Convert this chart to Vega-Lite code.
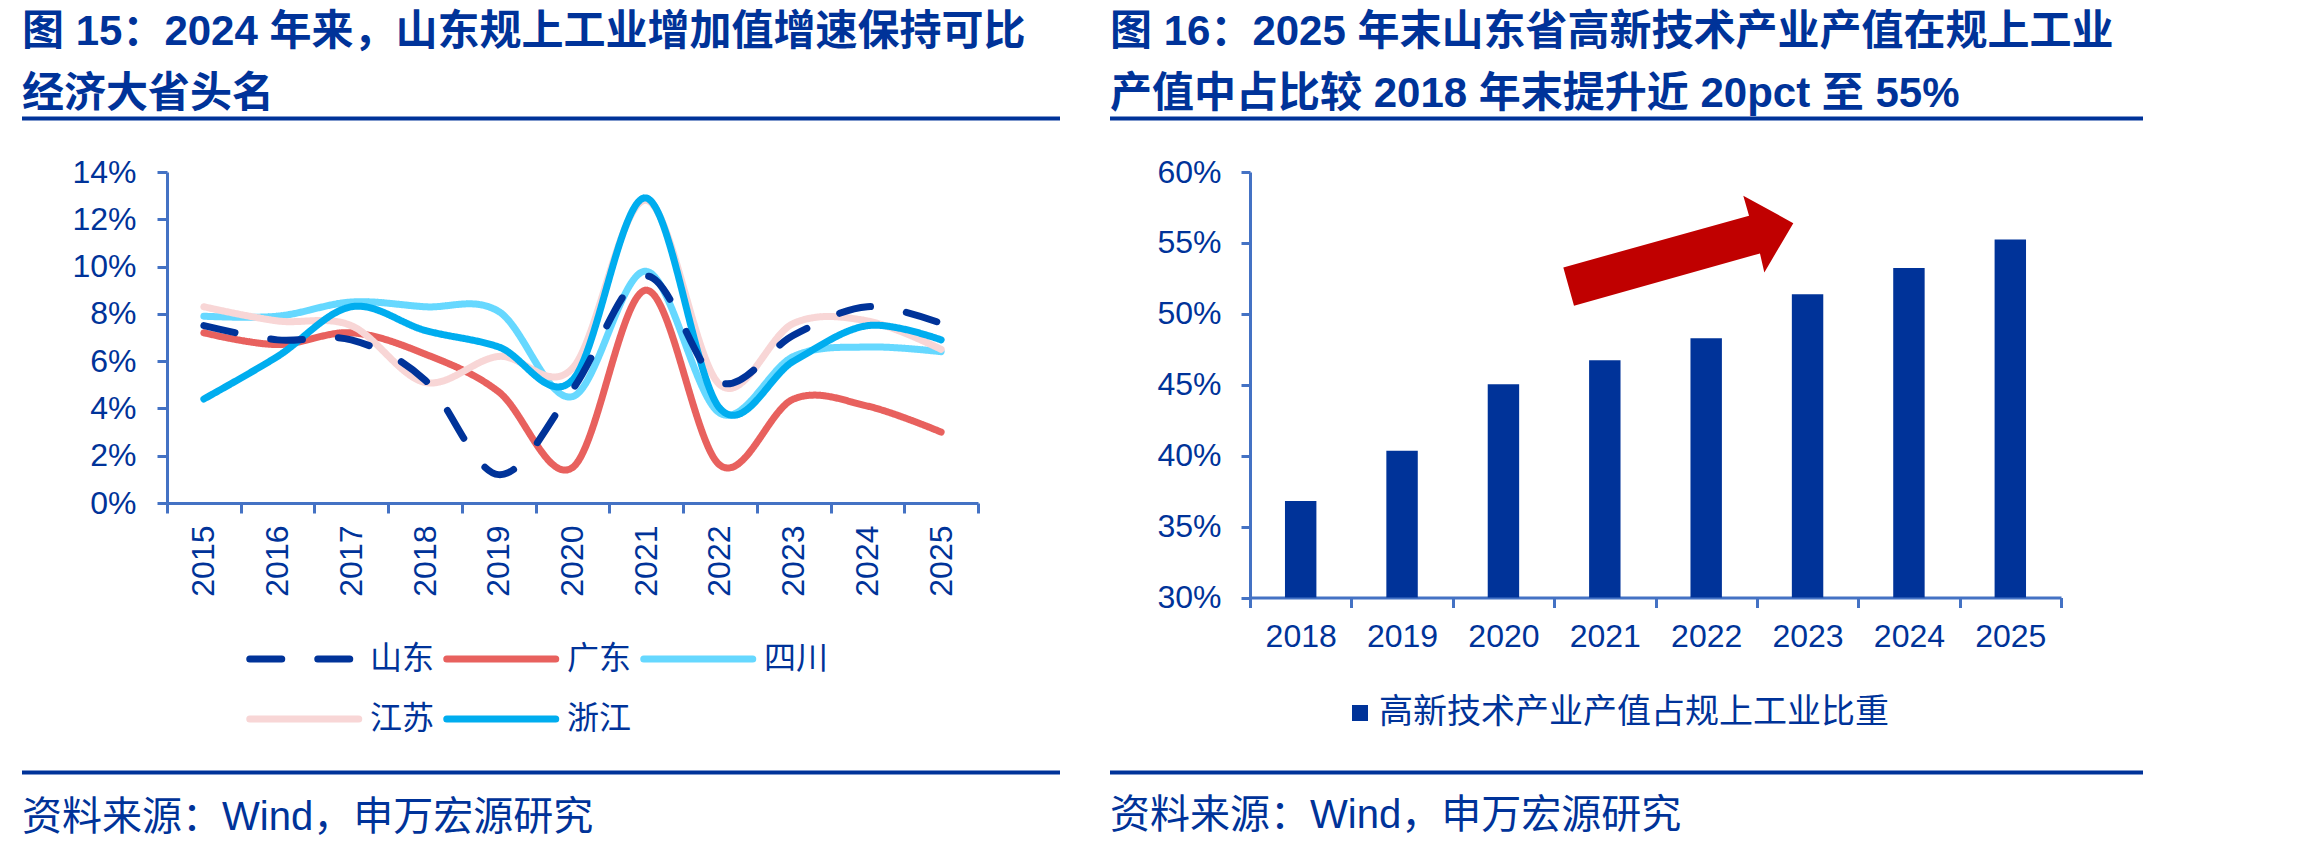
{
  "$schema": "https://vega.github.io/schema/vega-lite/v6.json",
  "background": "white",
  "padding": {"left": 20, "top": 11, "right": 10, "bottom": 0},
  "config": {
    "view": {"stroke": null},
    "font": "Liberation Sans",
    "axis": {
      "domainColor": "#4472C4",
      "tickColor": "#4472C4",
      "domainWidth": 3,
      "tickWidth": 3,
      "labelColor": "#003399",
      "labelFont": "Liberation Sans",
      "labelFontSize": 32,
      "grid": false,
      "title": null
    },
    "title": {
      "color": "#003399",
      "font": "Liberation Sans, Noto Sans CJK SC",
      "anchor": "start",
      "frame": "group"
    }
  },
  "spacing": 46,
  "resolve": {"legend": {"color": "independent", "strokeDash": "independent", "fill": "independent"}},
  "hconcat": [
    {
      "spacing": 35,
      "resolve": {"legend": {"color": "independent", "strokeDash": "independent"}},
      "vconcat": [
        {
          "width": 893,
          "height": 1,
          "title": {
            "text": ["图 15：2024 年来，山东规上工业增加值增速保持可比", "经济大省头名"],
            "fontSize": 42,
            "fontWeight": "bold",
            "lineHeight": 61.5,
            "offset": 1,
            "dx": -145
          },
          "data": {"values": [{}]},
          "mark": {"type": "rule", "color": "#003399", "strokeWidth": 4},
          "encoding": {
            "x": {"datum": 0, "type": "quantitative", "scale": {"domain": [0, 1], "range": [-145, 893]}, "axis": null},
            "x2": {"datum": 1}
          }
        },
        {
          "width": 811,
          "height": 331,
          "data": {
            "values": [
              {"year": "2015", "province": "广东", "growth": 0.072},
              {"year": "2016", "province": "广东", "growth": 0.067},
              {"year": "2017", "province": "广东", "growth": 0.072},
              {"year": "2018", "province": "广东", "growth": 0.063},
              {"year": "2019", "province": "广东", "growth": 0.047},
              {"year": "2020", "province": "广东", "growth": 0.015},
              {"year": "2021", "province": "广东", "growth": 0.090},
              {"year": "2022", "province": "广东", "growth": 0.016},
              {"year": "2023", "province": "广东", "growth": 0.044},
              {"year": "2024", "province": "广东", "growth": 0.041},
              {"year": "2025", "province": "广东", "growth": 0.030},
              {"year": "2015", "province": "四川", "growth": 0.079},
              {"year": "2016", "province": "四川", "growth": 0.079},
              {"year": "2017", "province": "四川", "growth": 0.085},
              {"year": "2018", "province": "四川", "growth": 0.083},
              {"year": "2019", "province": "四川", "growth": 0.081},
              {"year": "2020", "province": "四川", "growth": 0.045},
              {"year": "2021", "province": "四川", "growth": 0.098},
              {"year": "2022", "province": "四川", "growth": 0.038},
              {"year": "2023", "province": "四川", "growth": 0.062},
              {"year": "2024", "province": "四川", "growth": 0.066},
              {"year": "2025", "province": "四川", "growth": 0.064},
              {"year": "2015", "province": "江苏", "growth": 0.083},
              {"year": "2016", "province": "江苏", "growth": 0.077},
              {"year": "2017", "province": "江苏", "growth": 0.075},
              {"year": "2018", "province": "江苏", "growth": 0.051},
              {"year": "2019", "province": "江苏", "growth": 0.062},
              {"year": "2020", "province": "江苏", "growth": 0.057},
              {"year": "2021", "province": "江苏", "growth": 0.128},
              {"year": "2022", "province": "江苏", "growth": 0.050},
              {"year": "2023", "province": "江苏", "growth": 0.076},
              {"year": "2024", "province": "江苏", "growth": 0.077},
              {"year": "2025", "province": "江苏", "growth": 0.065},
              {"year": "2015", "province": "浙江", "growth": 0.044},
              {"year": "2016", "province": "浙江", "growth": 0.062},
              {"year": "2017", "province": "浙江", "growth": 0.083},
              {"year": "2018", "province": "浙江", "growth": 0.073},
              {"year": "2019", "province": "浙江", "growth": 0.066},
              {"year": "2020", "province": "浙江", "growth": 0.052},
              {"year": "2021", "province": "浙江", "growth": 0.129},
              {"year": "2022", "province": "浙江", "growth": 0.040},
              {"year": "2023", "province": "浙江", "growth": 0.060},
              {"year": "2024", "province": "浙江", "growth": 0.075},
              {"year": "2025", "province": "浙江", "growth": 0.069},
              {"year": "2015", "province": "山东", "growth": 0.075},
              {"year": "2016", "province": "山东", "growth": 0.069},
              {"year": "2017", "province": "山东", "growth": 0.069},
              {"year": "2018", "province": "山东", "growth": 0.052},
              {"year": "2019", "province": "山东", "growth": 0.012},
              {"year": "2020", "province": "山东", "growth": 0.048},
              {"year": "2021", "province": "山东", "growth": 0.096},
              {"year": "2022", "province": "山东", "growth": 0.051},
              {"year": "2023", "province": "山东", "growth": 0.071},
              {"year": "2024", "province": "山东", "growth": 0.083},
              {"year": "2025", "province": "山东", "growth": 0.076}
            ]
          },
          "mark": {"type": "line", "interpolate": "cardinal", "strokeWidth": 7, "strokeCap": "round", "strokeJoin": "round"},
          "encoding": {
            "x": {
              "field": "year",
              "type": "ordinal",
              "scale": {"paddingInner": 0, "paddingOuter": 0},
              "axis": {"labelAngle": -90, "tickBand": "extent", "tickSize": 10, "labelPadding": 12}
            },
            "y": {
              "field": "growth",
              "type": "quantitative",
              "scale": {"domain": [0, 0.14], "nice": false},
              "axis": {
                "values": [0, 0.02, 0.04, 0.06, 0.08, 0.1, 0.12, 0.14],
                "format": ".0%",
                "tickSize": 10,
                "labelPadding": 21
              }
            },
            "color": {
              "field": "province",
              "type": "nominal",
              "scale": {
                "domain": ["山东", "广东", "四川", "江苏", "浙江"],
                "range": ["#003399", "#E8615E", "#66D8FF", "#F8D6D6", "#00ADEF"]
              },
              "legend": {
                "title": null,
                "orient": "none",
                "legendX": 79,
                "legendY": 456,
                "columns": 3,
                "direction": "horizontal",
                "symbolType": "M-1,0L3,0",
                "symbolSize": 2970,
                "symbolStrokeWidth": 7,
                "labelFont": "Noto Sans CJK SC",
                "labelFontSize": 32,
                "labelColor": "#003399",
                "labelOffset": 62,
                "columnPadding": -3,
                "rowPadding": 13,
                "encode": {"symbols": {"update": {"strokeCap": {"value": "round"}}}}
              }
            },
            "strokeDash": {
              "field": "province",
              "type": "nominal",
              "scale": {
                "domain": ["山东", "广东", "四川", "江苏", "浙江"],
                "range": [[32, 36], [1, 0], [1, 0], [1, 0], [1, 0]]
              },
              "legend": {
                "title": null,
                "orient": "none",
                "legendX": 79,
                "legendY": 456,
                "columns": 3,
                "direction": "horizontal",
                "symbolType": "M-1,0L3,0",
                "symbolSize": 2970,
                "symbolStrokeWidth": 7,
                "labelFont": "Noto Sans CJK SC",
                "labelFontSize": 32,
                "labelColor": "#003399",
                "labelOffset": 62,
                "columnPadding": -3,
                "rowPadding": 13,
                "encode": {"symbols": {"update": {"strokeCap": {"value": "round"}}}}
              }
            }
          }
        },
        {
          "width": 893,
          "height": 1,
          "title": {
            "text": "资料来源：Wind，申万宏源研究",
            "orient": "bottom",
            "fontSize": 40,
            "fontWeight": "normal",
            "offset": 23,
            "dx": -145
          },
          "data": {"values": [{}]},
          "mark": {"type": "rule", "color": "#003399", "strokeWidth": 4},
          "encoding": {
            "x": {"datum": 0, "type": "quantitative", "scale": {"domain": [0, 1], "range": [-145, 893]}, "axis": null},
            "x2": {"datum": 1}
          }
        }
      ]
    },
    {
      "spacing": 35,
      "resolve": {"legend": {"fill": "independent"}},
      "vconcat": [
        {
          "width": 893,
          "height": 1,
          "title": {
            "text": ["图 16：2025 年末山东省高新技术产业产值在规上工业", "产值中占比较 2018 年末提升近 20pct 至 55%"],
            "fontSize": 42,
            "fontWeight": "bold",
            "lineHeight": 61.5,
            "offset": 1,
            "dx": -140
          },
          "data": {"values": [{}]},
          "mark": {"type": "rule", "color": "#003399", "strokeWidth": 4},
          "encoding": {
            "x": {"datum": 0, "type": "quantitative", "scale": {"domain": [0, 1], "range": [-140, 893]}, "axis": null},
            "x2": {"datum": 1}
          }
        },
        {
          "width": 811,
          "height": 425.5,
          "encoding": {
            "x": {
              "field": "year",
              "type": "ordinal",
              "scale": {"paddingInner": 0, "paddingOuter": 0},
              "axis": {"labelAngle": 0, "tickBand": "extent", "tickSize": 10, "labelPadding": 14}
            },
            "y": {
              "field": "share",
              "type": "quantitative",
              "scale": {"domain": [0.3, 0.6], "nice": false, "zero": false},
              "axis": {
                "values": [0.3, 0.35, 0.4, 0.45, 0.5, 0.55, 0.6],
                "format": ".0%",
                "tickSize": 9,
                "labelPadding": 20
              }
            }
          },
          "layer": [
            {
              "data": {
                "values": [
                  {"year": "2018", "share": 0.368},
                  {"year": "2019", "share": 0.4035},
                  {"year": "2020", "share": 0.4504},
                  {"year": "2021", "share": 0.4673},
                  {"year": "2022", "share": 0.4827},
                  {"year": "2023", "share": 0.5138},
                  {"year": "2024", "share": 0.5324},
                  {"year": "2025", "share": 0.5524}
                ]
              },
              "mark": {"type": "bar", "width": {"band": 0.31}},
              "encoding": {
                "y2": {"datum": 0.3},
                "fill": {
                  "datum": "高新技术产业产值占规上工业比重",
                  "scale": {"range": ["#003399"]},
                  "legend": {
                    "title": null,
                    "orient": "none",
                    "legendX": 90,
                    "legendY": 521,
                    "padding": 3,
                    "symbolType": "square",
                    "symbolSize": 256,
                    "symbolStrokeWidth": 0,
                    "labelFont": "Noto Sans CJK SC",
                    "labelFontSize": 34,
                    "labelColor": "#003399",
                    "labelOffset": 2,
                    "labelLimit": 800
                  }
                }
              }
            },
            {
              "data": {"values": [{"year": "2022", "share": 0.5447}]},
              "mark": {
                "type": "point",
                "shape": "M-1,0.148L0.615,-0.302L0.565,-0.476L1,-0.237L0.748,0.191L0.71,0.026L-0.907,0.481Z",
                "size": 52900,
                "filled": true,
                "fill": "#C00000",
                "strokeWidth": 0,
                "opacity": 1
              },
              "encoding": {
                "x": {"field": "year", "type": "ordinal", "bandPosition": 0.225}
              }
            }
          ]
        },
        {
          "width": 893,
          "height": 9,
          "title": {
            "text": "资料来源：Wind，申万宏源研究",
            "orient": "bottom",
            "fontSize": 40,
            "fontWeight": "normal",
            "offset": 19,
            "dx": -140
          },
          "data": {"values": [{}]},
          "mark": {"type": "rule", "color": "#003399", "strokeWidth": 4},
          "encoding": {
            "x": {"datum": 0, "type": "quantitative", "scale": {"domain": [0, 1], "range": [-140, 893]}, "axis": null},
            "x2": {"datum": 1}
          }
        }
      ]
    }
  ]
}
